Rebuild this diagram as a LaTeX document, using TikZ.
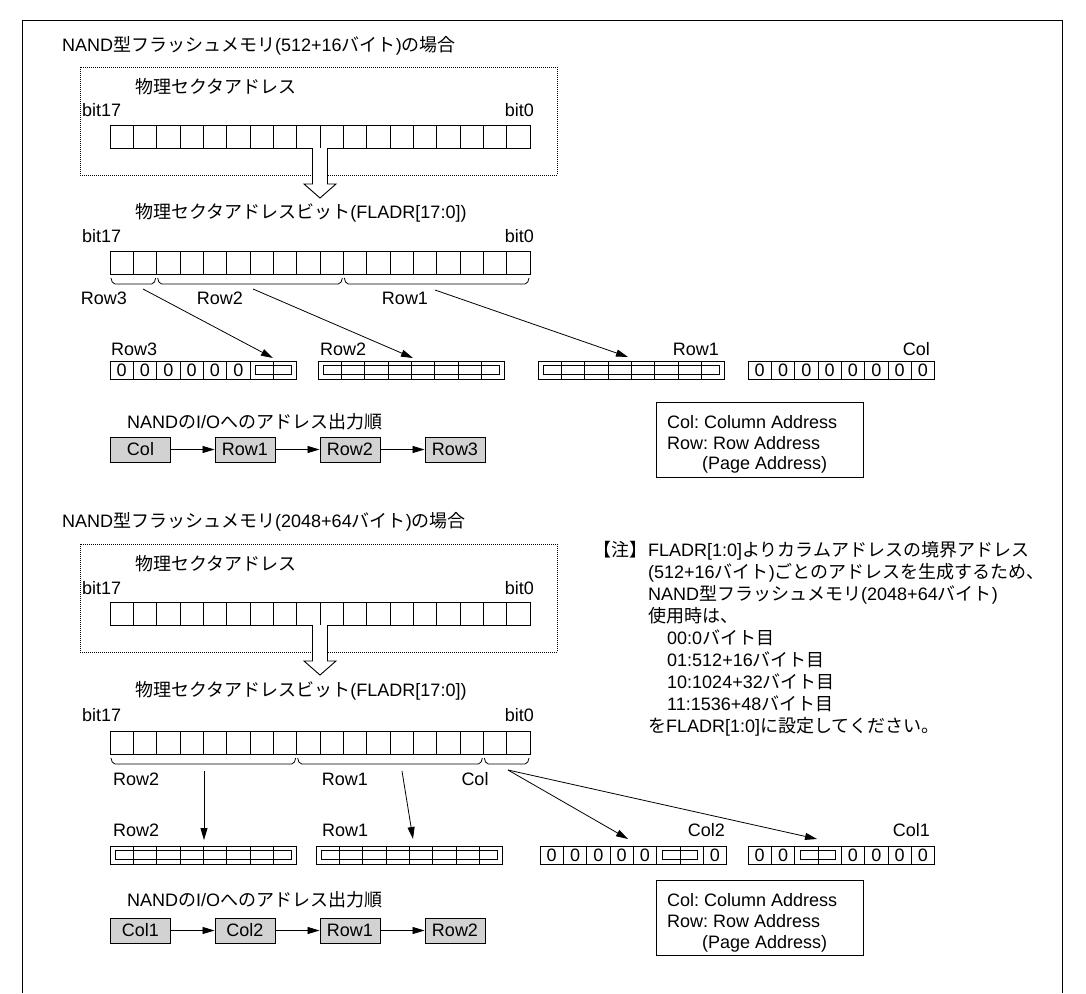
\documentclass[tikz,border=0pt]{standalone}
\usepackage{fontspec}
\setmainfont{Liberation Sans}
\newfontfamily\jp{Noto Sans CJK JP}
\usetikzlibrary{arrows.meta}

\newcommand{\fs}{\fontsize{18}{22}\selectfont}
\definecolor{boxGray}{RGB}{210,210,210}
\frenchspacing

\tikzset{
  txt/.style={inner sep=0pt, text height=13pt, text depth=0pt, font=\fs},
  bitCell/.style={draw, line width=0.9pt, minimum width=23.33pt, minimum height=23pt, inner sep=0pt},
  smallCell/.style={draw, line width=0.9pt, minimum width=23.33pt, minimum height=18pt, inner sep=0pt, font=\fs},
  grayBox/.style={draw, line width=0.9pt, fill=boxGray, minimum width=60pt, minimum height=25pt, inner sep=0pt, font=\fs},
  dotBox/.style={line width=0.6pt, dash pattern=on 0.7pt off 1.3pt},
  arr/.style={line width=0.8pt, -{Triangle[length=12pt,width=7pt]}},
  braceLine/.style={line width=0.8pt},
  hollowArrow/.style={line width=0.9pt, fill=white},
  innerBox/.style={line width=0.9pt},
}

\begin{document}
\begin{tikzpicture}[x=1pt, y=-1pt]
    % Fix the size of the picture
    \useasboundingbox (0,0) rectangle (1086,993);

    % Outer frame, open at the bottom
    \draw[line width=0.9pt] (22,993) -- (22,20) -- (1062,20) -- (1062,993);

    % ---------------- first case: 512+16 bytes ----------------
    \node[txt, anchor=west] (titleA) at (62,45) {NAND{\jp 型フラッシュメモリ}(512+16{\jp バイト}){\jp の場合}};

    % Dotted box round the physical sector address
    \draw[dotBox] (80,67) rectangle (557,175);
    \node[txt, anchor=west] (physTextA) at (135,87) {{\jp 物理セクタアドレス}};
    \node[txt, anchor=west] (physHighA) at (82,110) {bit17};
    \node[txt, anchor=east] (physLowA) at (534,110) {bit0};

    % Create the physical sector address register
    \foreach \i in {0,...,17}
      \node[bitCell] (physA\i) at ({121.67+23.33*\i},136.5) {};

    % Hollow arrow down to the FLADR register
    \draw[hollowArrow] (312.5,148) -- (312.5,184) -- (304,184) -- (320,198) -- (336,184) -- (327.5,184) -- (327.5,148);

    \node[txt, anchor=west] (fladrTextA) at (135,212) {{\jp 物理セクタアドレスビット}(FLADR[17:0])};
    \node[txt, anchor=west] (fladrHighA) at (82,236) {bit17};
    \node[txt, anchor=east] (fladrLowA) at (534,236) {bit0};

    % Create the FLADR register
    \foreach \i in {0,...,17}
      \node[bitCell] (fladrA\i) at ({121.67+23.33*\i},263) {};

    % Braces under the FLADR register
    \foreach \a/\b in {110/156.67, 156.67/343.33, 343.33/530}
      \draw[braceLine] (\a+1,278) to[out=-75,in=180] (\a+5,284) -- (\b-5,284) to[out=0,in=-105] (\b-1,278);

    \node[txt] (rowThreeLabelA) at (104,298) {Row3};
    \node[txt] (rowTwoLabelA) at (220,298) {Row2};
    \node[txt] (rowOneLabelA) at (405,298) {Row1};

    % Row3 register
    \node[txt, anchor=west] (rowThreeNameA) at (111,349) {Row3};
    \foreach \i in {0,...,7}
      \node[smallCell] (rowThreeA\i) at ({121.67+23.33*\i},370) {\ifnum\i<6 0\fi};
    \draw[innerBox] ([xshift=6pt,yshift=-5pt]rowThreeA6.north west) rectangle ([xshift=-6pt,yshift=5pt]rowThreeA7.south east);

    % Row2 register
    \node[txt, anchor=west] (rowTwoNameA) at (320,349) {Row2};
    \foreach \i in {0,...,7}
      \node[smallCell] (rowTwoA\i) at ({329.67+23.33*\i},370) {};
    \draw[innerBox] ([xshift=6pt,yshift=-5pt]rowTwoA0.north west) rectangle ([xshift=-6pt,yshift=5pt]rowTwoA7.south east);

    % Row1 register
    \node[txt, anchor=east] (rowOneNameA) at (719,349) {Row1};
    \foreach \i in {0,...,7}
      \node[smallCell] (rowOneA\i) at ({549.67+23.33*\i},370) {};
    \draw[innerBox] ([xshift=6pt,yshift=-5pt]rowOneA0.north west) rectangle ([xshift=-6pt,yshift=5pt]rowOneA7.south east);

    % Col register
    \node[txt, anchor=east] (colNameA) at (930,349) {Col};
    \foreach \i in {0,...,7}
      \node[smallCell] (colA\i) at ({759.67+23.33*\i},370) {0};

    % Arrows from the braces to the registers
    \coordinate (rowThreeFromA) at (143,289);
    \coordinate (rowThreeToA) at (273,358);
    \coordinate (rowTwoFromA) at (253,289);
    \coordinate (rowTwoToA) at (413,358);
    \coordinate (rowOneFromA) at (435,290);
    \coordinate (rowOneToA) at (628,357);
    \draw[arr] (rowThreeFromA) -- (rowThreeToA);
    \draw[arr] (rowTwoFromA) -- (rowTwoToA);
    \draw[arr] (rowOneFromA) -- (rowOneToA);

    % Output order on the NAND I/O
    \node[txt, anchor=west] (orderTextA) at (127,422) {NAND{\jp の}I/O{\jp へのアドレス出力順}};
    \node[grayBox] (colBoxA) at (140.5,449.5) {Col};
    \node[grayBox] (rowOneBoxA) at (245,449.5) {Row1};
    \node[grayBox] (rowTwoBoxA) at (350,449.5) {Row2};
    \node[grayBox] (rowThreeBoxA) at (455,449.5) {Row3};
    \draw[arr] (colBoxA) -- (rowOneBoxA);
    \draw[arr] (rowOneBoxA) -- (rowTwoBoxA);
    \draw[arr] (rowTwoBoxA) -- (rowThreeBoxA);

    % Legend
    \draw[line width=0.9pt] (656,402) rectangle (863,477);
    \node[txt, anchor=west] (legendColA) at (667,422) {Col: Column Address};
    \node[txt, anchor=west] (legendRowA) at (667,443) {Row: Row Address};
    \node[txt, anchor=west] (legendPageA) at (702,463) {(Page Address)};

    % ---------------- second case: 2048+64 bytes ----------------
    \node[txt, anchor=west] (titleB) at (62,521) {NAND{\jp 型フラッシュメモリ}(2048+64{\jp バイト}){\jp の場合}};

    \draw[dotBox] (80,544) rectangle (557,652);
    \node[txt, anchor=west] (physTextB) at (135,564) {{\jp 物理セクタアドレス}};
    \node[txt, anchor=west] (physHighB) at (82,588) {bit17};
    \node[txt, anchor=east] (physLowB) at (534,588) {bit0};

    \foreach \i in {0,...,17}
      \node[bitCell] (physB\i) at ({121.67+23.33*\i},613.5) {};

    \draw[hollowArrow] (312.5,625) -- (312.5,661) -- (304,661) -- (320,675) -- (336,661) -- (327.5,661) -- (327.5,625);

    \node[txt, anchor=west] (fladrTextB) at (135,690) {{\jp 物理セクタアドレスビット}(FLADR[17:0])};
    \node[txt, anchor=west] (fladrHighB) at (82,715) {bit17};
    \node[txt, anchor=east] (fladrLowB) at (534,715) {bit0};

    \foreach \i in {0,...,17}
      \node[bitCell] (fladrB\i) at ({121.67+23.33*\i},742.5) {};

    \foreach \a/\b in {110/296.67, 296.67/483.33, 483.33/530}
      \draw[braceLine] (\a+1,758) to[out=-75,in=180] (\a+5,764) -- (\b-5,764) to[out=0,in=-105] (\b-1,758);

    \node[txt, anchor=west] (rowTwoLabelB) at (113,779) {Row2};
    \node[txt] (rowOneLabelB) at (345,779) {Row1};
    \node[txt] (colLabelB) at (475,779) {Col};

    % The note
    \node[txt, anchor=east] (noteMark) at (648,550) {{\jp 【注】}};
    \node[txt, anchor=west] (noteLineA) at (648,550) {FLADR[1:0]{\jp よりカラムアドレスの境界アドレス}};
    \node[txt, anchor=west] (noteLineB) at (648,572) {(512+16{\jp バイト}){\jp ごとのアドレスを生成するため、}};
    \node[txt, anchor=west] (noteLineC) at (648,594) {NAND{\jp 型フラッシュメモリ}(2048+64{\jp バイト})};
    \node[txt, anchor=west] (noteLineD) at (648,616) {{\jp 使用時は、}};
    \node[txt, anchor=west] (noteLineE) at (667,638) {00:0{\jp バイト目}};
    \node[txt, anchor=west] (noteLineF) at (667,660) {01:512+16{\jp バイト目}};
    \node[txt, anchor=west] (noteLineG) at (667,682) {10:1024+32{\jp バイト目}};
    \node[txt, anchor=west] (noteLineH) at (667,704) {11:1536+48{\jp バイト目}};
    \node[txt, anchor=west] (noteLineI) at (648,726) {{\jp を}FLADR[1:0]{\jp に設定してください。}};

    % Row2 register
    \node[txt, anchor=west] (rowTwoNameB) at (113,830) {Row2};
    \foreach \i in {0,...,7}
      \node[smallCell] (rowTwoB\i) at ({121.67+23.33*\i},855) {};
    \draw[innerBox] ([xshift=6pt,yshift=-5pt]rowTwoB0.north west) rectangle ([xshift=-6pt,yshift=5pt]rowTwoB7.south east);

    % Row1 register
    \node[txt, anchor=west] (rowOneNameB) at (322,830) {Row1};
    \foreach \i in {0,...,7}
      \node[smallCell] (rowOneB\i) at ({327.67+23.33*\i},855) {};
    \draw[innerBox] ([xshift=6pt,yshift=-5pt]rowOneB0.north west) rectangle ([xshift=-6pt,yshift=5pt]rowOneB7.south east);

    % Col2 register
    \node[txt, anchor=east] (colTwoNameB) at (725,830) {Col2};
    \foreach \i in {0,...,7}
      \node[smallCell] (colTwoB\i) at ({551.67+23.33*\i},855) {\ifnum\i=5 \else\ifnum\i=6 \else 0\fi\fi};
    \draw[innerBox] ([xshift=6pt,yshift=-5pt]colTwoB5.north west) rectangle ([xshift=-6pt,yshift=5pt]colTwoB6.south east);

    % Col1 register
    \node[txt, anchor=east] (colOneNameB) at (930,830) {Col1};
    \foreach \i in {0,...,7}
      \node[smallCell] (colOneB\i) at ({759.67+23.33*\i},855) {\ifnum\i=2 \else\ifnum\i=3 \else 0\fi\fi};
    \draw[innerBox] ([xshift=6pt,yshift=-5pt]colOneB2.north west) rectangle ([xshift=-6pt,yshift=5pt]colOneB3.south east);

    % Arrows from the braces to the registers
    \coordinate (rowTwoFromB) at (204,771);
    \coordinate (rowTwoToB) at (204,840);
    \coordinate (rowOneFromB) at (402,771);
    \coordinate (rowOneToB) at (413,839);
    \coordinate (colFromB) at (508,770);
    \coordinate (colTwoToB) at (628,839);
    \coordinate (colOneToB) at (817,839);
    \draw[arr] (rowTwoFromB) -- (rowTwoToB);
    \draw[arr] (rowOneFromB) -- (rowOneToB);
    \draw[arr] (colFromB) -- (colTwoToB);
    \draw[arr] (colFromB) -- (colOneToB);

    % Output order on the NAND I/O
    \node[txt, anchor=west] (orderTextB) at (127,900) {NAND{\jp の}I/O{\jp へのアドレス出力順}};
    \node[grayBox] (colOneBoxB) at (140.5,930.5) {Col1};
    \node[grayBox] (colTwoBoxB) at (245,930.5) {Col2};
    \node[grayBox] (rowOneBoxB) at (350,930.5) {Row1};
    \node[grayBox] (rowTwoBoxB) at (455,930.5) {Row2};
    \draw[arr] (colOneBoxB) -- (colTwoBoxB);
    \draw[arr] (colTwoBoxB) -- (rowOneBoxB);
    \draw[arr] (rowOneBoxB) -- (rowTwoBoxB);

    % Legend
    \draw[line width=0.9pt] (656,880) rectangle (863,955);
    \node[txt, anchor=west] (legendColB) at (667,900) {Col: Column Address};
    \node[txt, anchor=west] (legendRowB) at (667,921) {Row: Row Address};
    \node[txt, anchor=west] (legendPageB) at (702,942) {(Page Address)};
\end{tikzpicture}
\end{document}
